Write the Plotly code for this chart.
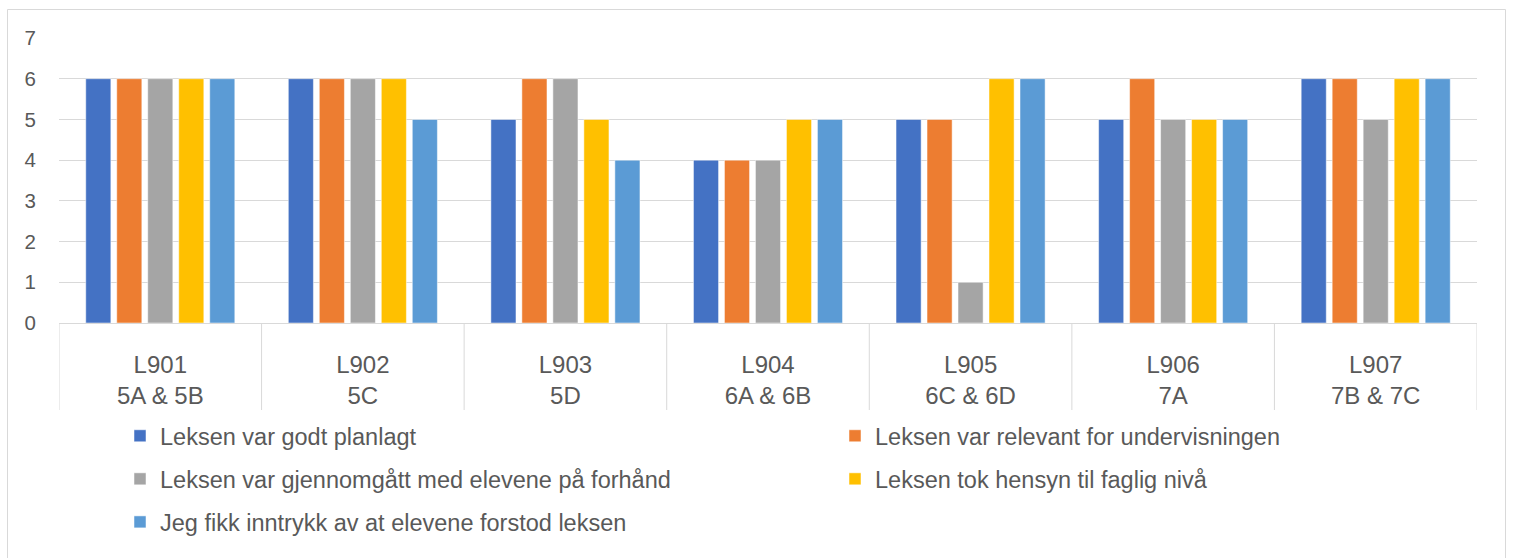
import plotly.graph_objects as go

lessons = ["L901", "L902", "L903", "L904", "L905", "L906", "L907"]
classes = ["5A & 5B", "5C", "5D", "6A & 6B", "6C & 6D", "7A", "7B & 7C"]

series_names = [
    "Leksen var godt planlagt",
    "Leksen var relevant for undervisningen",
    "Leksen var gjennomgått med elevene på forhånd",
    "Leksen tok hensyn til faglig nivå",
    "Jeg fikk inntrykk av at elevene forstod leksen",
]
planlagt = [6, 6, 5, 4, 5, 5, 6]
relevant = [6, 6, 6, 4, 5, 6, 6]
gjennomgatt = [6, 6, 6, 4, 1, 5, 5]
faglig = [6, 6, 5, 5, 6, 5, 6]
forstod = [6, 5, 4, 5, 6, 5, 6]
series_values = [planlagt, relevant, gjennomgatt, faglig, forstod]
colors = ["#4472C4", "#ED7D31", "#A5A5A5", "#FFC000", "#5B9BD5"]
legend_ids = ["legend", "legend2", "legend", "legend2", "legend"]
y_ticks = [0, 1, 2, 3, 4, 5, 6, 7]

FONT = "Liberation Sans, Arial, sans-serif"
TXT = "#595959"
GRID = "#D9D9D9"

fig = go.Figure()
for name, vals, col, lg in zip(series_names, series_values, colors, legend_ids):
    fig.add_trace(go.Bar(
        x=lessons, y=vals, name=name,
        marker=dict(color=col, line=dict(color="white", width=0.5)),
        legend=lg, legendgroup=name,
    ))

W, H = 1513, 558
l, r, t, b = 59, 36, 38, 235
pw, ph = W - l - r, H - t - b

def px_x(x):
    return (x - l) / pw

def px_y(y):
    return (H - b - y) / ph

# category divider lines of the two-level axis table
dividers = [dict(
    type="line", xref="x", yref="paper",
    x0=i - 0.5, x1=i - 0.5, y0=px_y(410), y1=0,
    line=dict(color=GRID, width=1),
) for i in range(len(lessons) + 1)]

border = dict(
    type="rect", xref="paper", yref="paper",
    x0=px_x(7.5), x1=px_x(1505.5), y0=px_y(560), y1=px_y(9.5),
    line=dict(color=GRID, width=1), fillcolor="rgba(0,0,0,0)", layer="below",
)

fig.update_layout(
    width=W, height=H,
    margin=dict(l=l, r=r, t=t, b=b),
    paper_bgcolor="white", plot_bgcolor="white",
    font=dict(family=FONT, color=TXT, size=19),
    barmode="group", bargap=0.235, bargroupgap=0.19,
    showlegend=True,
    xaxis=dict(
        type="category", showgrid=False,
        showline=True, linecolor=GRID, linewidth=1,
        range=[-0.5, len(lessons) - 0.5],
        tickvals=lessons,
        ticktext=[f"{a}<br>{c}" for a, c in zip(lessons, classes)],
        tickfont=dict(size=24, color=TXT, family=FONT),
        ticklabelstandoff=20,
    ),
    yaxis=dict(
        range=[0, 7], tickvals=y_ticks, showgrid=True, gridcolor=GRID, gridwidth=1,
        zeroline=False, showline=False,
        tickfont=dict(size=20.5, color=TXT, family=FONT),
        ticklabelstandoff=22,
    ),
    legend=dict(
        orientation="v", x=px_x(120), y=px_y(414), xanchor="left", yanchor="top",
        font=dict(size=23.5, color=TXT, family=FONT), tracegroupgap=9.5,
        bgcolor="rgba(0,0,0,0)",
    ),
    legend2=dict(
        orientation="v", x=px_x(835), y=px_y(414), xanchor="left", yanchor="top",
        font=dict(size=23.5, color=TXT, family=FONT), tracegroupgap=9.5,
        bgcolor="rgba(0,0,0,0)",
    ),
    shapes=[border] + dividers,
)

fig.write_html("out.html")
